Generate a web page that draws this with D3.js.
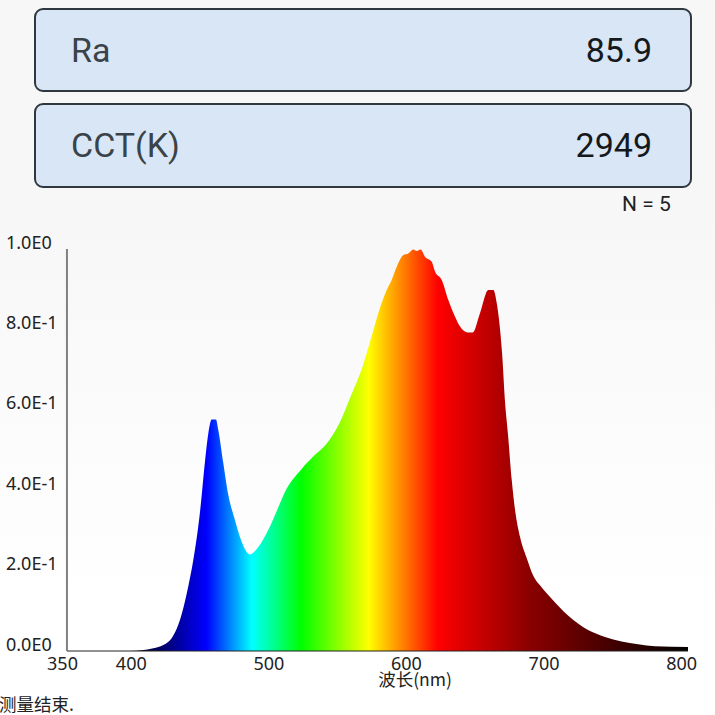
<!DOCTYPE html>
<html>
<head>
<meta charset="utf-8">
<script src="https://cdn.jsdelivr.net/npm/d3@7"></script>
<style>
  html, body { margin: 0; padding: 0; background: #f8f8f8; }
  svg { display: block; }
</style>
</head>
<body>
<svg id="chart"></svg>
<script>
// values
const wavelengths = [353.6, 400, 407.9, 416.4, 423.6, 429.7, 434.5, 438.2, 441.8, 445.4, 450.3, 453.9, 456.3, 458.8, 461.9, 463.6, 467.2, 470.9, 475.7, 480.6, 486.6, 492.7, 499.9, 507.9, 512.1, 524.2, 532.4, 543.3, 552, 559.3, 568.8, 576, 581.1, 586, 589.6, 593.3, 598.1, 601.7, 605.3, 607.8, 610.7, 613.8, 618.7, 621.1, 626, 630.8, 635.6, 639.3, 645.3, 648.5, 653.8, 659.9, 663.5, 666, 668.4, 669.8, 672, 674.2, 676.9, 679.3, 682.9, 687.8, 692.3, 698.7, 705.9, 717.8, 732.3, 744.7, 768.7, 781, 805];
const intensity = [0, 0, 0.002, 0.007, 0.015, 0.032, 0.065, 0.107, 0.161, 0.226, 0.346, 0.47, 0.54, 0.576, 0.576, 0.55, 0.468, 0.388, 0.326, 0.272, 0.24, 0.259, 0.301, 0.363, 0.396, 0.453, 0.483, 0.52, 0.569, 0.629, 0.711, 0.794, 0.853, 0.898, 0.923, 0.956, 0.985, 0.989, 0.999, 0.995, 0.999, 0.981, 0.968, 0.944, 0.923, 0.873, 0.832, 0.807, 0.792, 0.792, 0.84, 0.898, 0.898, 0.865, 0.8, 0.744, 0.62, 0.537, 0.425, 0.351, 0.284, 0.231, 0.189, 0.158, 0.13, 0.088, 0.052, 0.035, 0.017, 0.012, 0.01];

const xTicks = [350, 400, 500, 600, 700, 800];
const yTicks = [0, 0.2, 0.4, 0.6, 0.8, 1];
const yTickLabels = ['0.0E0', '2.0E-1', '4.0E-1', '6.0E-1', '8.0E-1', '1.0E0'];

const colorStopNm = [400, 455, 488, 524, 573, 623, 689, 805];
const colorStops = ['#000000', '#0000ff', '#00ffff', '#00ff00', '#ffff00', '#ff0000', '#8b0000', '#000000'];

const panelLabels = ['Ra', 'CCT(K)'];
const panelValues = ['85.9', '2949'];

const width = 715;
const height = 715;
const font = '"Noto Sans", "Open Sans", sans-serif';
const cjkFont = '"Noto Sans CJK SC", sans-serif';

const svg = d3.select('#chart').attr('width', width).attr('height', height);
const defs = svg.append('defs');

// page background gets lighter toward the bottom
const bg = defs.append('linearGradient').attr('id', 'page-bg').attr('x1', 0).attr('x2', 0).attr('y1', 0).attr('y2', 1);
bg.append('stop').attr('offset', 0.3).attr('stop-color', '#f7f7f7');
bg.append('stop').attr('offset', 0.85).attr('stop-color', '#ffffff');
svg.append('rect').attr('width', width).attr('height', height).attr('fill', 'url(#page-bg)');

// Scales: tick labels sit slightly left of the axis origin
const x = d3.scaleLinear().domain([350, 805]).range([62, 688]);
const y = d3.scaleLinear().domain([0, 1]).range([651, 249]);

// Result panels
panelLabels.forEach((label, i) => {
  const top = i === 0 ? 9 : 104;
  const g = svg.append('g').attr('transform', `translate(35, ${top})`);
  g.append('rect')
    .attr('width', 656)
    .attr('height', i === 0 ? 82 : 83)
    .attr('rx', 8)
    .attr('fill', '#d9e6f6')
    .attr('stroke', '#2e383e')
    .attr('stroke-width', 2);
  g.append('text')
    .attr('x', 36)
    .attr('y', 53)
    .attr('fill', '#3a4348')
    .attr('font-family', 'Roboto, sans-serif')
    .attr('font-size', 34)
    .text(label);
  g.append('text')
    .attr('x', 617)
    .attr('y', 53)
    .attr('text-anchor', 'end')
    .attr('fill', '#15191c')
    .attr('font-family', 'Roboto, sans-serif')
    .attr('font-size', 34)
    .text(panelValues[i]);
});

svg.append('text')
  .attr('x', 622)
  .attr('y', 211)
  .attr('fill', '#222')
  .attr('font-family', 'Roboto, sans-serif')
  .attr('font-size', 21)
  .text('N = 5');

// Spectrum colours
const grad = defs.append('linearGradient')
  .attr('id', 'spectrum')
  .attr('gradientUnits', 'userSpaceOnUse')
  .attr('x1', x(colorStopNm[0]))
  .attr('x2', x(colorStopNm[colorStopNm.length - 1]))
  .attr('y1', 0)
  .attr('y2', 0);
const stopScale = d3.scaleLinear().domain([colorStopNm[0], colorStopNm[colorStopNm.length - 1]]).range([0, 1]);
colorStopNm.forEach((nm, i) => {
  grad.append('stop').attr('offset', stopScale(nm)).attr('stop-color', colorStops[i]);
});

const area = d3.area()
  .x((d, i) => x(wavelengths[i]))
  .y0(y(0))
  .y1(d => y(d))
  .curve(d3.curveMonotoneX);

svg.append('path')
  .datum(intensity)
  .attr('d', area)
  .attr('fill', 'url(#spectrum)');

// Baseline and value axis line
svg.append('line')
  .attr('x1', x(wavelengths[0]))
  .attr('x2', x(805))
  .attr('y1', y(0))
  .attr('y2', y(0))
  .attr('stroke', '#222')
  .attr('stroke-width', 1);
svg.append('line')
  .attr('x1', x(wavelengths[0]))
  .attr('x2', x(wavelengths[0]))
  .attr('y1', y(1))
  .attr('y2', y(0))
  .attr('stroke', '#808080')
  .attr('stroke-width', 2);

// Axes, labels only
const xAxis = d3.axisBottom(x).tickValues(xTicks).tickSize(0).tickPadding(6).tickFormat(d3.format('d'));
const xAxisG = svg.append('g').attr('transform', `translate(0, ${y(0)})`).call(xAxis);
xAxisG.select('.domain').remove();
xAxisG.selectAll('text')
  .attr('fill', '#222')
  .style('font-family', font)
  .style('font-size', '18px');

const yAxis = d3.axisLeft(y).tickValues(yTicks).tickSize(0).tickFormat((d, i) => yTickLabels[i]);
const yAxisG = svg.append('g').attr('transform', 'translate(0, 0)').call(yAxis);
yAxisG.select('.domain').remove();
yAxisG.selectAll('text')
  .attr('x', 6)
  .attr('dy', '-0.05em')
  .attr('text-anchor', 'start')
  .attr('fill', '#222')
  .style('font-family', font)
  .style('font-size', '18px');

svg.append('text')
  .attr('x', 415)
  .attr('y', 686)
  .attr('text-anchor', 'middle')
  .attr('fill', '#222')
  .attr('font-family', cjkFont)
  .attr('font-size', 17.5)
  .text('波长(nm)');

svg.append('text')
  .attr('x', -1)
  .attr('y', 711)
  .attr('fill', '#222')
  .attr('font-family', cjkFont)
  .attr('font-size', 17.5)
  .text('测量结束.');
</script>
</body>
</html>
